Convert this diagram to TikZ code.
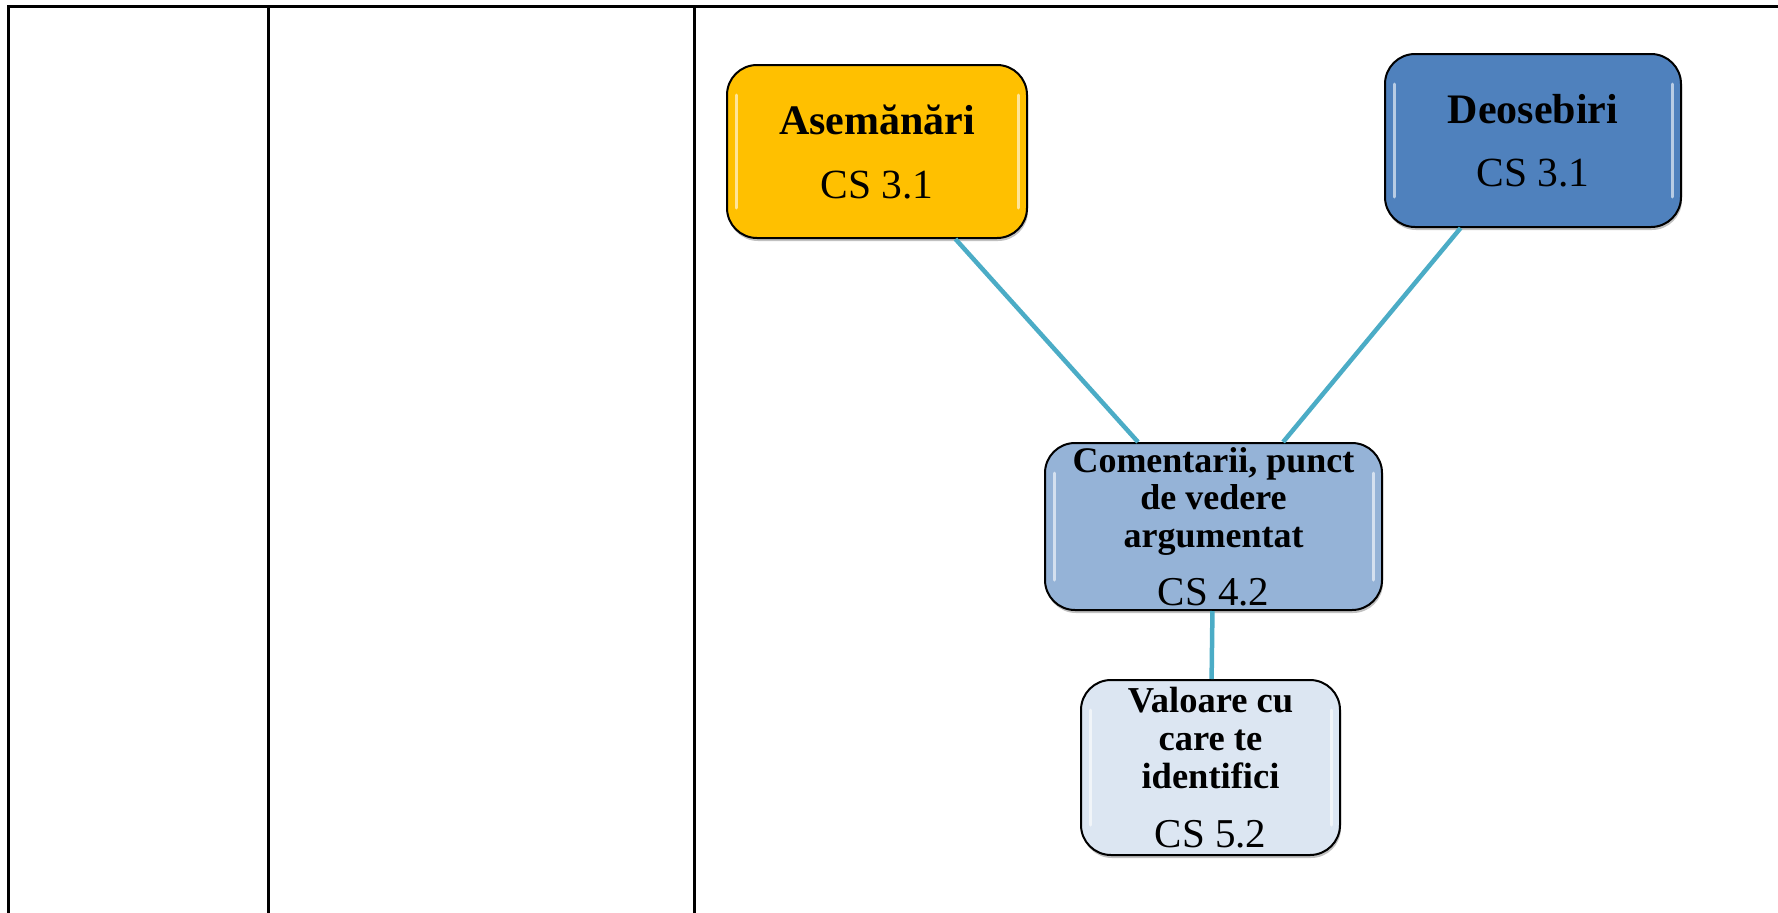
\documentclass[tikz,border=0pt]{standalone}
\usepackage{fontspec}
\setmainfont{Liberation Serif}
\usetikzlibrary{shadows}
\definecolor{asemYellow}{HTML}{FFC000}
\definecolor{deoBlue}{HTML}{4F81BD}
\definecolor{comBlue}{HTML}{95B3D7}
\definecolor{valBlue}{HTML}{DCE6F2}
\definecolor{linkTeal}{HTML}{4BACC6}
\begin{document}
\begin{tikzpicture}[x=1pt,y=-1pt,
	smartbox/.style={draw,line width=2,rounded corners=30,inner sep=0,align=flush center,
		drop shadow={shadow xshift=1pt,shadow yshift=-3pt,opacity=.35,fill=black!70},
		path picture={
			\draw[white,opacity=.6,line width=3,line cap=round] ([xshift=9,yshift=-30]path picture bounding box.north west) -- ([xshift=9,yshift=30]path picture bounding box.south west);
			\draw[white,opacity=.6,line width=3,line cap=round] ([xshift=-9,yshift=-30]path picture bounding box.north east) -- ([xshift=-9,yshift=30]path picture bounding box.south east);}},
	link/.style={draw=linkTeal,line width=4.5},
	rule/.style={draw,line width=3}]
	\useasboundingbox (0,0) rectangle (1778,913);
	\draw[rule] (8,913) -- (8,6) -- (1778,6);
	\draw[rule] (268,6) -- (268,913);
	\draw[rule] (694,6) -- (694,913);
	\node[smartbox,fill=asemYellow,minimum width=300,minimum height=173,text width=290] (asem) at (877,151.5)
		{\fontsize{42}{42}\selectfont\bfseries Asemănări\par\fontsize{41.5}{64}\selectfont\mdseries CS 3.1\par};
	\node[smartbox,fill=deoBlue,minimum width=296,minimum height=173,text width=286] (deo) at (1533,140.5)
		{\fontsize{42}{42}\selectfont\bfseries Deosebiri\par\fontsize{41.5}{63}\selectfont\mdseries CS 3.1\par};
	\node[smartbox,fill=comBlue,minimum width=337,minimum height=167,text width=335] (com) at (1213.5,526.5)
		{\fontsize{36}{37.5}\selectfont\bfseries Comentarii, punct\\de vedere\\argumentat\par\fontsize{41}{58}\selectfont\mdseries CS 4.2\par};
	\node[smartbox,fill=valBlue,minimum width=259,minimum height=175,text width=255] (val) at (1210.5,767.5)
		{\fontsize{36.5}{38}\selectfont\bfseries Valoare cu\\care te\\identifici\par\fontsize{41}{59}\selectfont\mdseries CS 5.2\par};
	\draw[link] (asem) -- (com);
	\draw[link] (deo) -- (com);
	\draw[link] (com) -- (val);
\end{tikzpicture}
\end{document}
